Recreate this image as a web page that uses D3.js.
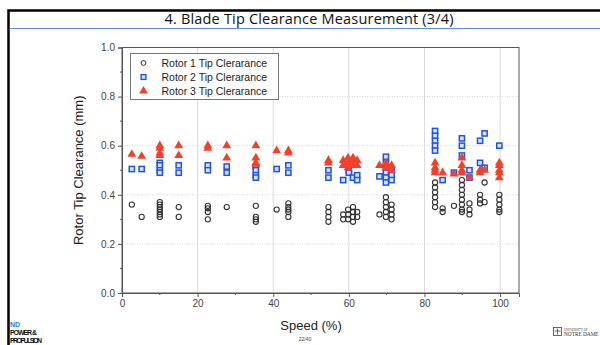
<!DOCTYPE html>
<html>
<head>
<meta charset="utf-8">
<script src="https://cdn.jsdelivr.net/npm/d3@7"></script>
<style>
  body { margin: 0; background: #fff; }
  svg { display: block; }
</style>
</head>
<body>
<div id="chart"></div>
<script>
// speed (%), clearance (mm)
var rotor1 = [
  [2.6, 0.36], [5.2, 0.31],
  [10, 0.37], [10, 0.36], [10, 0.35], [10, 0.34], [10, 0.33], [10, 0.32], [10, 0.31],
  [15, 0.35], [15, 0.31],
  [22.7, 0.355], [22.7, 0.345], [22.7, 0.33], [22.7, 0.30],
  [27.7, 0.35],
  [35.4, 0.355], [35.4, 0.31], [35.4, 0.30], [35.4, 0.29],
  [40.9, 0.34],
  [44, 0.365], [44, 0.35], [44, 0.34], [44, 0.33], [44, 0.31],
  [54.6, 0.35], [54.6, 0.33], [54.6, 0.31], [54.6, 0.29],
  [58.5, 0.32], [58.5, 0.30],
  [59.8, 0.34], [59.8, 0.32], [59.8, 0.30],
  [61.1, 0.35], [61.1, 0.33], [61.1, 0.31], [61.1, 0.29],
  [62.2, 0.33], [62.2, 0.31],
  [68.1, 0.32],
  [69.8, 0.39], [69.8, 0.37], [69.8, 0.35], [69.8, 0.33], [69.8, 0.31],
  [71.3, 0.36], [71.3, 0.34], [71.3, 0.32], [71.3, 0.30],
  [82.8, 0.45], [82.8, 0.43], [82.8, 0.41], [82.8, 0.39], [82.8, 0.37], [82.8, 0.35],
  [84.8, 0.345], [84.8, 0.33],
  [87.8, 0.355],
  [89.9, 0.46], [89.9, 0.44], [89.9, 0.42], [89.9, 0.40], [89.9, 0.38], [89.9, 0.36], [89.9, 0.34], [89.9, 0.33],
  [91.9, 0.365], [91.9, 0.34], [91.9, 0.32],
  [94.7, 0.40], [94.7, 0.38], [94.7, 0.365],
  [95.9, 0.45], [95.9, 0.37],
  [99.8, 0.40], [99.8, 0.38], [99.8, 0.36], [99.8, 0.34], [99.8, 0.33]
];

var rotor2 = [
  [2.6, 0.505], [5.2, 0.505],
  [10, 0.53], [10, 0.52], [10, 0.50], [10, 0.49],
  [15, 0.52], [15, 0.49],
  [22.7, 0.52], [22.7, 0.50],
  [27.7, 0.515], [27.7, 0.49],
  [35.4, 0.515], [35.4, 0.50], [35.4, 0.48], [35.4, 0.47],
  [40.9, 0.505],
  [44, 0.52], [44, 0.49],
  [54.6, 0.50], [54.6, 0.47],
  [58.5, 0.46], [60, 0.50], [60, 0.49], [61.1, 0.47], [62.2, 0.48], [62.2, 0.46],
  [68.1, 0.475],
  [69.8, 0.555], [69.8, 0.53], [69.8, 0.51], [69.8, 0.49], [69.8, 0.47], [69.8, 0.45],
  [71.3, 0.50], [71.3, 0.48], [71.3, 0.46],
  [82.8, 0.66], [82.8, 0.64], [82.8, 0.62], [82.8, 0.60], [82.8, 0.58],
  [84.8, 0.46], [87.8, 0.49],
  [89.9, 0.63], [89.9, 0.60], [89.9, 0.56],
  [91.9, 0.50], [91.9, 0.47],
  [94.7, 0.62], [94.7, 0.53],
  [95.9, 0.65], [95.9, 0.51],
  [99.8, 0.60]
];

var rotor3 = [
  [2.6, 0.565], [5.2, 0.557],
  [10, 0.60], [10, 0.59], [10, 0.57], [10, 0.56],
  [15, 0.60], [15, 0.56],
  [22.7, 0.60], [22.7, 0.59],
  [27.7, 0.60], [27.7, 0.55],
  [35.4, 0.60], [35.4, 0.55], [35.4, 0.53], [35.4, 0.525],
  [40.9, 0.58],
  [44, 0.58], [44, 0.57],
  [54.6, 0.54], [54.6, 0.53],
  [58.5, 0.54], [58.5, 0.52],
  [59.8, 0.55], [59.8, 0.53], [59.8, 0.51],
  [61.1, 0.55], [61.1, 0.54], [61.1, 0.52],
  [62.2, 0.54], [62.2, 0.52],
  [68.1, 0.52],
  [69.8, 0.53], [69.8, 0.51],
  [71.3, 0.52], [71.3, 0.50],
  [82.8, 0.53], [82.8, 0.51], [82.8, 0.50], [82.8, 0.49],
  [84.8, 0.49], [87.8, 0.485],
  [89.9, 0.55], [89.9, 0.52], [89.9, 0.50], [89.9, 0.49],
  [91.9, 0.47],
  [94.7, 0.50], [94.7, 0.49],
  [95.9, 0.50],
  [99.8, 0.53], [99.8, 0.52], [99.8, 0.50], [99.8, 0.49], [99.8, 0.47]
];

var legendLabels = ["Rotor 1 Tip Clerarance", "Rotor 2 Tip Clerarance", "Rotor 3 Tip Clerarance"];
var xTicks = [0, 20, 40, 60, 80, 100];
var yTicks = [0, 0.2, 0.4, 0.6, 0.8, 1.0];

var W = 600, H = 345;
var margin = { left: 122, right: 81, top: 47.5, bottom: 52 };
var width = W - margin.left - margin.right;
var height = H - margin.top - margin.bottom;

var svg = d3.select("#chart").append("svg")
    .attr("width", W)
    .attr("height", H);

// slide frame + title
svg.append("rect").attr("x", 0).attr("y", 0).attr("width", W).attr("height", H).attr("fill", "#fff");
svg.append("path")
    .attr("d", "M8.5," + H + " L8.5,10.5 L" + W + ",10.5")
    .attr("fill", "none").attr("stroke", "#000").attr("stroke-width", 2.5);
svg.append("line")
    .attr("x1", 9.5).attr("x2", W).attr("y1", 28.5).attr("y2", 28.5)
    .attr("stroke", "#5b8fd0").attr("stroke-width", 1.2);
svg.append("text")
    .attr("x", 309).attr("y", 24)
    .attr("text-anchor", "middle")
    .attr("font-family", "Open Sans, sans-serif")
    .attr("font-size", 14.5)
    .attr("fill", "#111")
    .attr("textLength", 289)
    .text("4. Blade Tip Clearance Measurement (3/4)");

var g = svg.append("g")
    .attr("transform", "translate(" + margin.left + "," + margin.top + ")");

var x = d3.scaleLinear().domain([0, 105]).range([0, width]);
var y = d3.scaleLinear().domain([0, 1]).range([height, 0]);

// grid
g.append("g").selectAll("line")
    .data(xTicks.filter(function (d) { return d > 0; }))
    .enter().append("line")
    .attr("x1", function (d) { return x(d); }).attr("x2", function (d) { return x(d); })
    .attr("y1", 0).attr("y2", height)
    .attr("stroke", "#dcdcdc").attr("stroke-width", 1);

g.append("g").selectAll("line")
    .data(yTicks.filter(function (d) { return d > 0 && d < 1; }))
    .enter().append("line")
    .attr("x1", 0).attr("x2", width)
    .attr("y1", function (d) { return y(d); }).attr("y2", function (d) { return y(d); })
    .attr("stroke", "#d4d4d4").attr("stroke-width", 1)
    .attr("stroke-dasharray", "1,1.5");

// frame
g.append("rect")
    .attr("x", 0).attr("y", 0).attr("width", width).attr("height", height)
    .attr("fill", "none").attr("stroke", "#555").attr("stroke-width", 1);

// axes
var xAxis = d3.axisBottom(x).tickValues(xTicks).tickSize(4).tickPadding(3).tickFormat(d3.format("d"));
var yAxis = d3.axisLeft(y).tickValues(yTicks).tickSize(4).tickPadding(3).tickFormat(d3.format(".1f"));

var xAxisGroup = g.append("g").attr("transform", "translate(0," + height + ")").call(xAxis);
var yAxisGroup = g.append("g").call(yAxis);

// minor ticks
g.append("g").selectAll("line")
    .data([10, 30, 50, 70, 90])
    .enter().append("line")
    .attr("x1", function (d) { return x(d); }).attr("x2", function (d) { return x(d); })
    .attr("y1", height).attr("y2", height + 2)
    .attr("stroke", "#555");
g.append("g").selectAll("line")
    .data([0.1, 0.3, 0.5, 0.7, 0.9])
    .enter().append("line")
    .attr("x1", -2).attr("x2", 0)
    .attr("y1", function (d) { return y(d); }).attr("y2", function (d) { return y(d); })
    .attr("stroke", "#555");

[xAxisGroup, yAxisGroup].forEach(function (ax) {
    ax.select(".domain").attr("stroke", "#555");
    ax.selectAll(".tick line").attr("stroke", "#555");
    ax.selectAll(".tick text")
        .attr("fill", "#444")
        .attr("font-family", "Liberation Sans, Arial, sans-serif")
        .attr("font-size", 10);
});

// axis titles
svg.append("text")
    .attr("x", margin.left + x(50)).attr("y", 330)
    .attr("text-anchor", "middle")
    .attr("font-family", "Liberation Sans, Arial, sans-serif")
    .attr("font-size", 13)
    .attr("fill", "#222")
    .text("Speed (%)");
svg.append("text")
    .attr("transform", "translate(83," + (margin.top + y(0.5)) + ") rotate(-90)")
    .attr("text-anchor", "middle")
    .attr("font-family", "Liberation Sans, Arial, sans-serif")
    .attr("font-size", 13)
    .attr("fill", "#222")
    .text("Rotor Tip Clearance (mm)");

// markers
var circleColor = "#333", squareColor = "#1f52e6", triColor = "#f4402a";
var tri = d3.symbol().type(d3.symbolTriangle).size(34);

function drawSeries(data, kind, target) {
    var sel = target.selectAll("." + kind).data(data).enter();
    if (kind === "r1") {
        sel.append("circle")
            .attr("class", kind)
            .attr("cx", function (d) { return x(d[0]); })
            .attr("cy", function (d) { return y(d[1]); })
            .attr("r", 2.6)
            .attr("fill", "none").attr("stroke", circleColor).attr("stroke-width", 1.1);
    } else if (kind === "r2") {
        sel.append("rect")
            .attr("class", kind)
            .attr("x", function (d) { return x(d[0]) - 2.6; })
            .attr("y", function (d) { return y(d[1]) - 2.6; })
            .attr("width", 5.2).attr("height", 5.2)
            .attr("fill", "#d6e4ff").attr("stroke", squareColor).attr("stroke-width", 1.5);
    } else {
        sel.append("path")
            .attr("class", kind)
            .attr("transform", function (d) { return "translate(" + x(d[0]) + "," + y(d[1]) + ")"; })
            .attr("d", tri)
            .attr("fill", triColor);
    }
}

var pts = g.append("g");
drawSeries(rotor1, "r1", pts);
drawSeries(rotor2, "r2", pts);
drawSeries(rotor3, "r3", pts);

// legend
var legend = svg.append("g").attr("transform", "translate(130.5,53.5)");
legend.append("rect")
    .attr("width", 148).attr("height", 46)
    .attr("fill", "#fff").attr("stroke", "#777").attr("stroke-width", 1);
legendLabels.forEach(function (label, i) {
    var ly = 9.5 + i * 14;
    var item = legend.append("g").attr("transform", "translate(13," + ly + ")");
    if (i === 0) {
        item.append("circle").attr("r", 2.4).attr("fill", "none").attr("stroke", circleColor);
    } else if (i === 1) {
        item.append("rect").attr("x", -2.4).attr("y", -2.4).attr("width", 4.8).attr("height", 4.8)
            .attr("fill", "#d6e4ff").attr("stroke", squareColor).attr("stroke-width", 1.4);
    } else {
        item.append("path").attr("d", tri).attr("fill", triColor);
    }
    legend.append("text")
        .attr("x", 31).attr("y", ly + 3.8)
        .attr("font-family", "Liberation Sans, Arial, sans-serif")
        .attr("font-size", 10.5)
        .attr("fill", "#222")
        .text(label);
});

// footer
var foot = svg.append("g").attr("font-family", "Liberation Sans, Arial, sans-serif").attr("font-weight", "bold");
foot.append("text").attr("x", 10).attr("y", 326.5).attr("font-size", 7).attr("fill", "#2a7fd4").text("ND");
foot.append("text").attr("x", 10).attr("y", 335).attr("font-size", 7).attr("fill", "#111")
    .attr("textLength", 27).text("POWER &");
foot.append("text").attr("x", 10).attr("y", 343).attr("font-size", 7).attr("fill", "#111")
    .attr("textLength", 32).text("PROPULSION");
svg.append("text").attr("x", 305).attr("y", 341).attr("text-anchor", "middle")
    .attr("font-family", "Liberation Sans, Arial, sans-serif").attr("font-size", 5).attr("fill", "#444")
    .text("22/40");
var nd = svg.append("g").attr("transform", "translate(553,327)");
nd.append("rect").attr("x", 0.5).attr("y", 0.5).attr("width", 8).attr("height", 8)
    .attr("fill", "none").attr("stroke", "#444").attr("stroke-width", 0.8);
nd.append("path").attr("d", "M4.5,1.5 V7.5 M1.5,4 H7.5").attr("stroke", "#444").attr("stroke-width", 0.8);
nd.append("text").attr("x", 11).attr("y", 4).attr("font-size", 3.2).attr("fill", "#444")
    .attr("font-family", "Liberation Serif, serif").text("UNIVERSITY OF");
nd.append("text").attr("x", 11).attr("y", 8.5).attr("font-size", 5.3).attr("fill", "#333")
    .attr("font-family", "Liberation Serif, serif").text("NOTRE DAME");
</script>
</body>
</html>
